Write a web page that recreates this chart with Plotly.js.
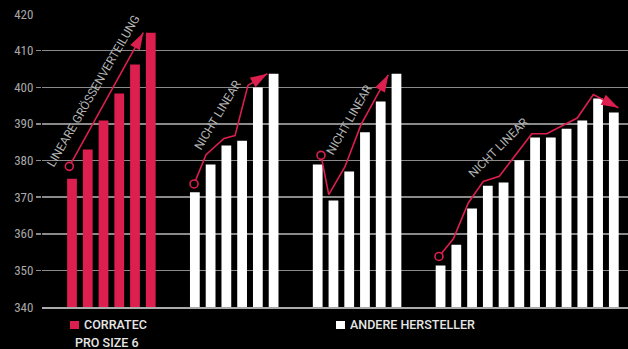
<!DOCTYPE html>
<html><head><meta charset="utf-8">
<script src="https://cdn.plot.ly/plotly-3.0.1.min.js"></script>
<style>html,body{margin:0;padding:0;background:#000;}#chart{width:628px;height:349px;}</style>
</head><body><div id="chart"></div>
<script>
// ---- data ----
const gridTicks = [350, 360, 370, 380, 390, 400, 410];
const edgeTicks = [340, 420];
const corratec = [375.0, 383.0, 390.9, 398.3, 406.2, 414.9];
const otherA = [371.3, 378.9, 384.1, 385.4, 399.9, 403.7];
const otherB = [378.9, 369.1, 377.0, 387.7, 396.1, 403.7];
const otherC = [351.3, 357.0, 366.9, 373.1, 374.0, 380.1, 386.3, 386.3, 388.7, 390.9, 396.9, 393.1];

// trend lines: x offsets relative to first bar of each group, y on value scale
const trend1X = [-0.17, 4.53];
const trend1Y = [378.4, 414.9];
const trend2X = [-0.05, 0.71, 1.85, 2.55, 3.37, 4.6];
const trend2Y = [373.6, 381.6, 386.0, 386.8, 400.5, 403.7];
const trend3X = [0.21, 0.70, 1.73, 2.75, 4.48];
const trend3Y = [381.4, 370.7, 378.3, 389.8, 403.4];
const trend4X = [-0.10, 0.81, 1.76, 2.71, 3.73, 5.79, 6.74, 7.69, 8.68, 9.70, 11.29];
const trend4Y = [353.8, 358.6, 368.4, 374.3, 375.7, 387.3, 387.3, 389.3, 391.6, 398.0, 394.4];

const trendLabels = ['LINEARE GRÖSSENVERTEILUNG', 'NICHT LINEAR', 'NICHT LINEAR', 'NICHT LINEAR'];
const seriesNames = ['CORRATEC', 'ANDERE HERSTELLER'];
const seriesSub = 'PRO SIZE 6';

// ---- layout helpers ----
const RED = '#dc1f4e';
const GAP = 1.8;
const groups = [corratec, otherA, otherB, otherC];
const starts = [];
let s = 0;
groups.forEach(g => { starts.push(s); s += g.length + GAP; });
const pos = (gi, arr) => arr.map((_, i) => starts[gi] + i);
const shift = (gi, arr) => arr.map(v => starts[gi] + v);

const TICKFONT = '"Roboto Condensed", "Liberation Sans Narrow", "DejaVu Sans Condensed", Roboto, sans-serif';
const FONT = 'Roboto, "Open Sans", sans-serif';

const traces = [];
traces.push({type: 'bar', name: seriesNames[0], x: pos(0, corratec), y: corratec,
  marker: {color: RED}, width: 0.62, showlegend: false, hoverinfo: 'y'});
traces.push({type: 'bar', name: seriesNames[1],
  x: [].concat(pos(1, otherA), pos(2, otherB), pos(3, otherC)),
  y: [].concat(otherA, otherB, otherC),
  marker: {color: '#ffffff'}, width: 0.62, showlegend: false, hoverinfo: 'y'});

const trends = [[trend1X, trend1Y], [trend2X, trend2Y], [trend3X, trend3Y], [trend4X, trend4Y]];
trends.forEach(([tx, ty], gi) => {
  const xs = shift(gi, tx);
  const n = xs.length;
  traces.push({type: 'scatter', mode: 'lines', x: xs, y: ty,
    line: {color: RED, width: 1.6}, showlegend: false, hoverinfo: 'skip'});
  // arrow head at the end, oriented along the last segment
  traces.push({type: 'scatter', mode: 'markers', x: xs.slice(n - 2), y: ty.slice(n - 2),
    marker: {symbol: 'arrow', angleref: 'previous', size: 18, color: RED, line: {width: 0}},
    showlegend: false, hoverinfo: 'skip'});
  // start marker
  traces.push({type: 'scatter', mode: 'markers', x: [xs[0]], y: [ty[0]],
    marker: {symbol: 'circle', size: 8, color: '#000', line: {color: RED, width: 1.6}},
    showlegend: false, hoverinfo: 'skip'});
});
// empty trace so the secondary (edge label) axis is drawn
traces.push({type: 'scatter', mode: 'markers', x: [], y: [], yaxis: 'y2', showlegend: false, hoverinfo: 'skip'});

const annotations = [];
// rotated labels (positions relative to group start)
const labelPos = [[1.36, 399.0, -60], [1.47, 392.3, -59], [1.99, 391.1, -60], [3.65, 383.5, -45]];
trendLabels.forEach((t, gi) => {
  annotations.push({x: starts[gi] + labelPos[gi][0], y: labelPos[gi][1], xref: 'x', yref: 'y',
    text: t, showarrow: false, textangle: labelPos[gi][2],
    font: {family: FONT, size: 12, color: '#b4b4b4'}});
});

// legend (annotations + shapes)
const legFont = {family: FONT, size: 12.5, color: '#e6e6e6', weight: 500};
annotations.push({xref: 'paper', yref: 'paper', x: 0.068, y: -0.0614, xanchor: 'left', yanchor: 'middle',
  text: seriesNames[0], showarrow: false, font: legFont});
annotations.push({xref: 'paper', yref: 'paper', x: 0.0525, y: -0.121, xanchor: 'left', yanchor: 'middle',
  text: seriesSub, showarrow: false, font: legFont});
annotations.push({xref: 'paper', yref: 'paper', x: 0.522, y: -0.0614, xanchor: 'left', yanchor: 'middle',
  text: seriesNames[1], showarrow: false, font: legFont});
const shapes = [
  {type: 'rect', xref: 'paper', yref: 'paper', x0: 0.0478, x1: 0.0631, y0: -0.0751, y1: -0.0478,
   fillcolor: RED, line: {width: 0}},
  {type: 'rect', xref: 'paper', yref: 'paper', x0: 0.5017, x1: 0.5171, y0: -0.0751, y1: -0.0478,
   fillcolor: '#ffffff', line: {width: 0}}
];

const tickFont = {family: TICKFONT, size: 13, color: '#a8a8a8'};
const layout = {
  width: 628, height: 349,
  margin: {l: 42, r: 0, t: 14, b: 42},
  paper_bgcolor: '#000', plot_bgcolor: '#000',
  showlegend: false,
  xaxis: {range: [-1.905, 35.3], showticklabels: false, showgrid: false, zeroline: false,
    showline: true, linecolor: '#aaaaaa', linewidth: 1.5, ticks: '', fixedrange: true},
  yaxis: {range: [340, 420], tickvals: gridTicks, ticktext: gridTicks.map(String),
    showgrid: true, gridcolor: '#8a8a8a', gridwidth: 1.5, zeroline: false, showline: false,
    ticks: 'outside', ticklen: 5, tickcolor: '#8a8a8a', tickwidth: 1.5,
    tickfont: tickFont, fixedrange: true},
  yaxis2: {overlaying: 'y', anchor: 'x', side: 'left', range: [340, 420],
    tickmode: 'array', tickvals: edgeTicks, ticktext: edgeTicks.map(String),
    showgrid: false, zeroline: false, showline: false,
    ticks: 'outside', ticklen: 5, tickcolor: 'rgba(0,0,0,0)', tickwidth: 1.5,
    tickfont: tickFont, fixedrange: true},
  annotations: annotations,
  shapes: shapes
};

Plotly.newPlot('chart', traces, layout, {displayModeBar: false, staticPlot: true});
</script>
</body></html>
